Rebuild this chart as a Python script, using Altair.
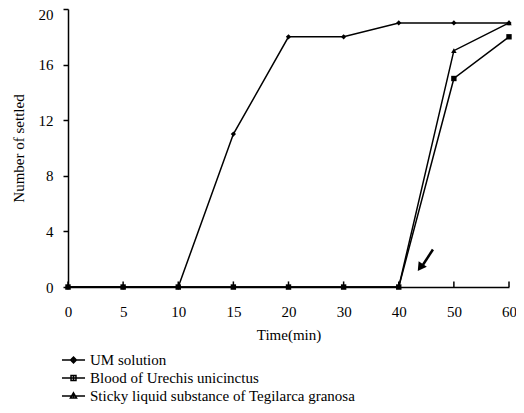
import altair as alt
import pandas as pd

times = [0, 5, 10, 15, 20, 30, 40, 50, 60]
series_names = [
    "UM solution",
    "Blood of Urechis unicinctus",
    "Sticky liquid substance of Tegilarca granosa",
]
um = [0, 0, 0, 11, 18, 18, 19, 19, 19]
blood = [0, 0, 0, 0, 0, 0, 0, 15, 18]
sticky = [0, 0, 0, 0, 0, 0, 0, 17, 19]
y_ticks = [0, 4, 8, 12, 16, 20]

FONT = "Liberation Serif"

rows = []
for name, vals in zip(series_names, [um, blood, sticky]):
    for i, (t, v) in enumerate(zip(times, vals)):
        rows.append({"series": name, "pos": i, "time": t, "value": v})
df = pd.DataFrame(rows)

label_expr = "[" + ",".join(f"'{t}'" for t in times) + "][datum.value]"

x_enc = alt.X(
    "pos:Q",
    scale=alt.Scale(domain=[0, len(times) - 1], nice=False, zero=False),
    axis=alt.Axis(
        values=list(range(len(times))), labelExpr=label_expr, title="Time(min)",
        ticks=False, grid=False, labelPadding=17, titlePadding=8, labelFlush=False,
        domainColor="black", domainWidth=1.5,
        labelFont=FONT, labelFontSize=15, labelColor="black",
        titleFont=FONT, titleFontSize=15, titleFontWeight="normal", titleColor="black",
    ),
)
y_enc = alt.Y(
    "value:Q",
    scale=alt.Scale(domain=[0, 20], nice=False),
    axis=alt.Axis(
        values=y_ticks, title="Number of settled", tickSize=5, tickColor="black",
        tickWidth=1.5, labelPadding=10, titlePadding=12, grid=False, labelFlush=False,
        labelOffset=alt.condition("datum.value == 20", alt.value(5), alt.value(0)),
        domainColor="black", domainWidth=1.5,
        labelFont=FONT, labelFontSize=15, labelColor="black",
        titleFont=FONT, titleFontSize=15, titleFontWeight="normal", titleColor="black",
    ),
)

base = alt.Chart(df)

lines = base.mark_line(color="black", strokeWidth=1.5).encode(
    x=x_enc, y=y_enc, detail="series:N"
)

points = base.mark_point(filled=True, color="black", opacity=1).encode(
    x=x_enc,
    y=y_enc,
    shape=alt.Shape("series:N", scale=alt.Scale(domain=series_names,
                    range=["diamond", "square", "triangle-up"]), legend=None),
    size=alt.Size("series:N", scale=alt.Scale(domain=series_names, range=[28, 30, 45]),
                  legend=None),
)

# legend symbols: a line with a marker on it (coordinates in Vega's -1..1 symbol box)
legend_paths = [
    "M-1.44,0H1.44M0,-0.36L0.36,0L0,0.36L-0.36,0ZM0,-0.36V0.36",
    "M-1.44,0H1.44M-0.31,-0.31H0.31V0.31H-0.31ZM0,-0.31V0.31",
    "M-1.44,0H1.44M0,-0.4L0.38,0.25H-0.38ZM0,-0.4V0.25",
]
legend_layer = base.mark_point(filled=False, color="black", strokeWidth=1.5, opacity=0).encode(
    x=x_enc,
    y=y_enc,
    shape=alt.Shape(
        "series:N",
        scale=alt.Scale(domain=series_names, range=legend_paths),
        legend=alt.Legend(
            title=None, orient="none", legendX=-3.5, legendY=342, padding=0,
            rowPadding=1, symbolSize=256, symbolStrokeWidth=1.5,
            symbolFillColor="black", symbolStrokeColor="black", symbolOpacity=1,
            labelOffset=7.5, labelFont=FONT, labelFontSize=15, labelColor="black",
            labelLimit=0,
        ),
    ),
)

tick_df = pd.DataFrame({"pos": list(range(len(times)))})
xticks = alt.Chart(tick_df).mark_rule(color="black", strokeWidth=1.5).encode(
    x=alt.X("pos:Q"), y=alt.datum(0), y2=alt.datum(0.4)
)

arrow_line_df = pd.DataFrame({"x": [6.62], "y": [2.7], "x2": [6.44], "y2": [1.6]})
arrow_line = alt.Chart(arrow_line_df).mark_rule(color="black", strokeWidth=2.5).encode(
    x="x:Q", y="y:Q", x2="x2:Q", y2="y2:Q"
)
arrow_head_df = pd.DataFrame({"x": [6.39], "y": [1.4]})
arrow_head = alt.Chart(arrow_head_df).mark_point(
    shape="triangle-up", filled=True, color="black", angle=215, size=100, opacity=1
).encode(x="x:Q", y="y:Q")

chart = (
    alt.layer(lines, xticks, points, legend_layer, arrow_line, arrow_head)
    .resolve_scale(shape="independent", size="independent")
    .properties(
        width=441, height=278,
        padding={"left": 60, "top": 1, "right": 7, "bottom": 118},
        autosize=alt.AutoSizeParams(type="none"),
    )
    .configure_view(stroke=None)
)

chart.save("out.html", embed_options={"renderer": "svg", "actions": False})
